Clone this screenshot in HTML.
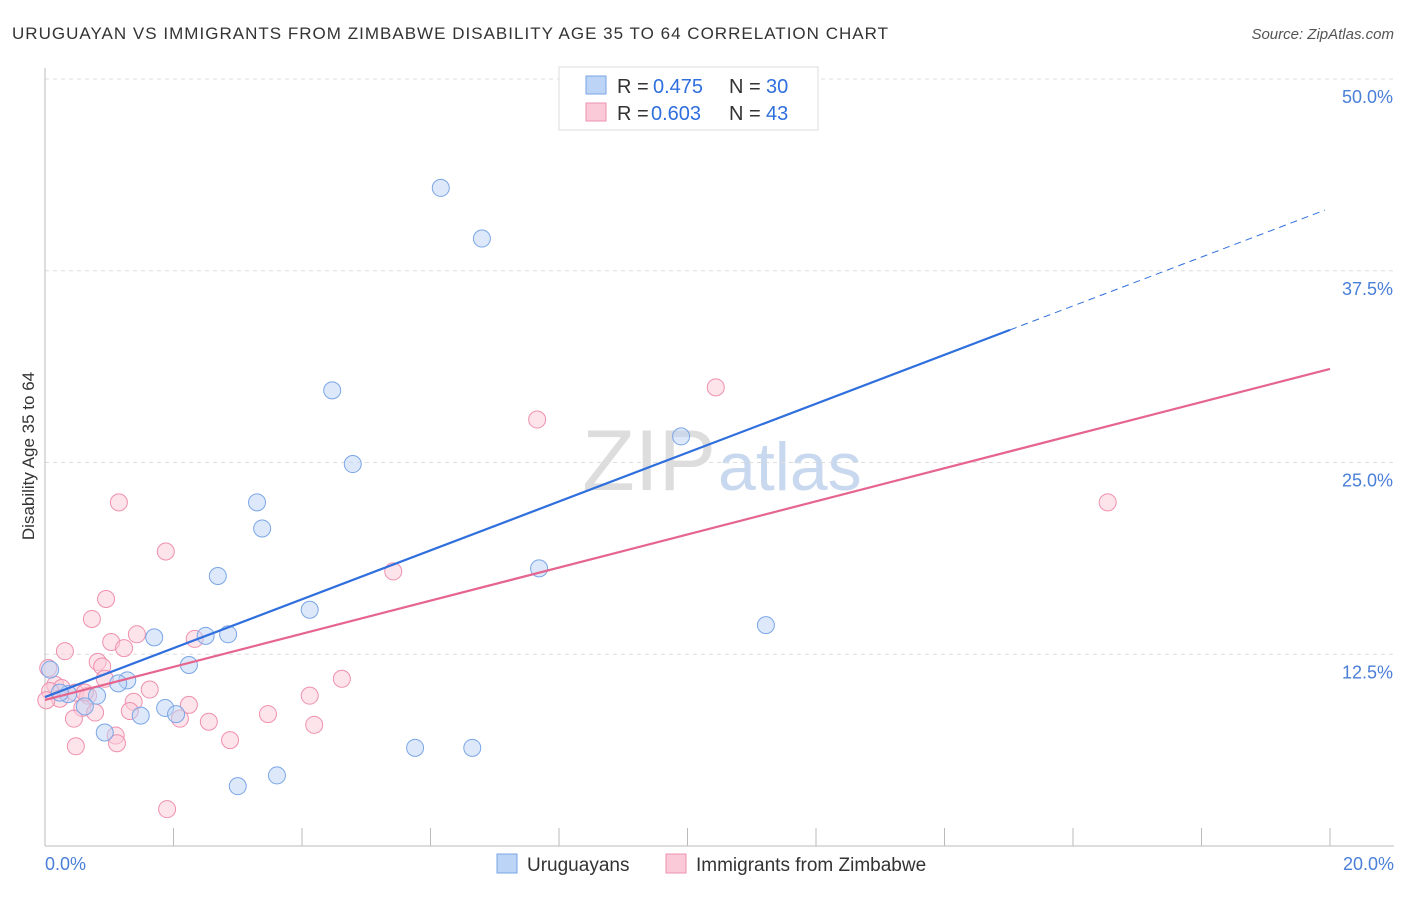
<!DOCTYPE html>
<html><head><meta charset="utf-8"><style>
body{margin:0;background:#fff;font-family:"Liberation Sans",sans-serif}
svg text{font-family:"Liberation Sans",sans-serif}
</style></head><body>
<svg id="c" width="1406" height="892">
<text x="12" y="39" font-size="17" fill="#333" textLength="876">URUGUAYAN VS IMMIGRANTS FROM ZIMBABWE DISABILITY AGE 35 TO 64 CORRELATION CHART</text>
<text x="1394" y="39" font-size="15" fill="#555" text-anchor="end" font-style="italic">Source: ZipAtlas.com</text>
<text x="34" y="456" font-size="17" fill="#333" text-anchor="middle" transform="rotate(-90 34 456)">Disability Age 35 to 64</text>
<text x="716" y="490" font-size="86" fill="#ddd" text-anchor="end" font-family="Liberation Serif">ZIP</text>
<text x="718" y="490" font-size="68" fill="#c8d8ee">atlas</text>
<g id="grid"></g><g id="marks"></g>
<rect x="559" y="67" width="259" height="63" fill="#fff" stroke="#ddd"/>
<rect x="586" y="76" width="20" height="18" fill="#bcd4f5" stroke="#7aa6e6"/>
<rect x="586" y="103" width="20" height="18" fill="#fbcad8" stroke="#ef90ae"/>
<g font-size="20">
<text x="617" y="93" fill="#333">R =</text><text x="653" y="93" fill="#2f6fdd">0.475</text>
<text x="729" y="93" fill="#333">N =</text><text x="766" y="93" fill="#2f6fdd">30</text></g>
<g font-size="20">
<text x="617" y="120" fill="#333">R =</text><text x="651" y="120" fill="#2f6fdd">0.603</text>
<text x="729" y="120" fill="#333">N =</text><text x="766" y="120" fill="#2f6fdd">43</text></g>
<rect x="497" y="854" width="20" height="19" fill="#bcd4f5" stroke="#7aa6e6"/>
<text x="527" y="871" font-size="19" fill="#333">Uruguayans</text>
<rect x="666" y="854" width="20" height="19" fill="#fbcad8" stroke="#ef90ae"/>
<text x="696" y="871" font-size="19" fill="#333">Immigrants from Zimbabwe</text>
</svg>
<script>
const yTicks=[12.5,25,37.5,50];
const yTickLabels=["12.5%","25.0%","37.5%","50.0%"];
const xTickLabels=["0.0%","20.0%"];
const blueX=[6.16,6.80,4.47,4.79,3.30,3.38,2.69,7.69,9.90,11.22,4.12,1.70,2.50,2.85,2.24,1.28,1.14,0.81,0.36,0.62,1.87,2.04,1.49,0.93,5.76,6.65,3.61,3.00,0.08,0.23];
const blueY=[42.9,39.6,29.7,24.9,22.4,20.7,17.6,18.1,26.7,14.4,15.4,13.6,13.7,13.8,11.8,10.8,10.6,9.8,9.9,9.1,9.0,8.6,8.5,7.4,6.4,6.4,4.6,3.9,11.5,10.0];
const pinkX=[1.15,1.88,7.66,10.44,16.54,5.42,0.95,0.73,0.31,1.43,1.03,1.23,2.33,0.82,0.89,0.93,1.63,4.12,4.62,0.16,0.26,0.47,0.67,0.58,0.78,1.38,1.32,2.24,2.10,2.55,3.47,4.19,2.88,0.45,0.48,1.10,1.12,1.90,0.05,0.08,0.23,0.62,0.02];
const pinkY=[22.4,19.2,27.8,29.9,22.4,17.9,16.1,14.8,12.7,13.8,13.3,12.9,13.5,12.0,11.7,10.9,10.2,9.8,10.9,10.5,10.3,10.0,9.8,9.0,8.7,9.4,8.8,9.2,8.3,8.1,8.6,7.9,6.9,8.3,6.5,7.2,6.7,2.4,11.6,10.1,9.6,10.0,9.5];
const blueTrend=[9.71,41.58], pinkTrend=[9.52,31.1];
const X=v=>45+v/20*1285, Y=v=>846-v/50*767;
const NS="http://www.w3.org/2000/svg";
function mk(t,a,p){const e=document.createElementNS(NS,t);for(const k in a)e.setAttribute(k,a[k]);p.appendChild(e);return e;}
const g=document.getElementById('grid'), m=document.getElementById('marks');
yTicks.forEach((v,i)=>{
 const l=mk('line',{x1:45,x2:1394,y1:Y(v),y2:Y(v),stroke:'#ddd','stroke-dasharray':'4,4'},g);
 
 
 const t=mk('text',{x:1393,y:Y(v)+24,'font-size':18,fill:'#4a7fd8','text-anchor':'end'},g);t.textContent=yTickLabels[i];
 
 
});
const ax=mk('line',{x1:45,x2:45,y1:68,y2:846,stroke:'#bbb'},g);


const bx=mk('line',{x1:45,x2:1394,y1:846,y2:846,stroke:'#bbb'},g);


for(let i=0;i<=10;i++){const t=mk('line',{x1:X(i*2),x2:X(i*2),y1:828,y2:846,stroke:'#bbb'},g);
 
 }
[[0,'start',45],[20,'end',1394]].forEach((d,i)=>{const t=mk('text',{x:d[2],y:870,'font-size':18,fill:'#4a7fd8','text-anchor':d[1]},g);t.textContent=xTickLabels[i];
 
 });
function pts(xs,ys,f,s,n){xs.forEach((x,i)=>{const c=mk('circle',{cx:X(x),cy:Y(ys[i]),r:8.5,fill:f,'fill-opacity':0.5,stroke:s,'stroke-width':1},m);
 
 });}
pts(pinkX,pinkY,'#fbcad8','#ef90ae','zimbabwe-point');
pts(blueX,blueY,'#bcd4f5','#7aa6e6','uruguayan-point');
const xs=15.02, yb=blueTrend[0]+(blueTrend[1]-blueTrend[0])*xs/20;
let l=mk('line',{x1:X(0),y1:Y(blueTrend[0]),x2:X(xs),y2:Y(yb),stroke:'#2f6fdd','stroke-width':2.2},m);


l=mk('line',{x1:X(xs),y1:Y(yb),x2:X(19.92),y2:Y(blueTrend[0]+(blueTrend[1]-blueTrend[0])*19.92/20),stroke:'#2f6fdd','stroke-width':1,'stroke-dasharray':'7,5'},m);


l=mk('line',{x1:X(0),y1:Y(pinkTrend[0]),x2:X(20),y2:Y(pinkTrend[1]),stroke:'#e5658f','stroke-width':2.2},m);


</script>
</body></html>
